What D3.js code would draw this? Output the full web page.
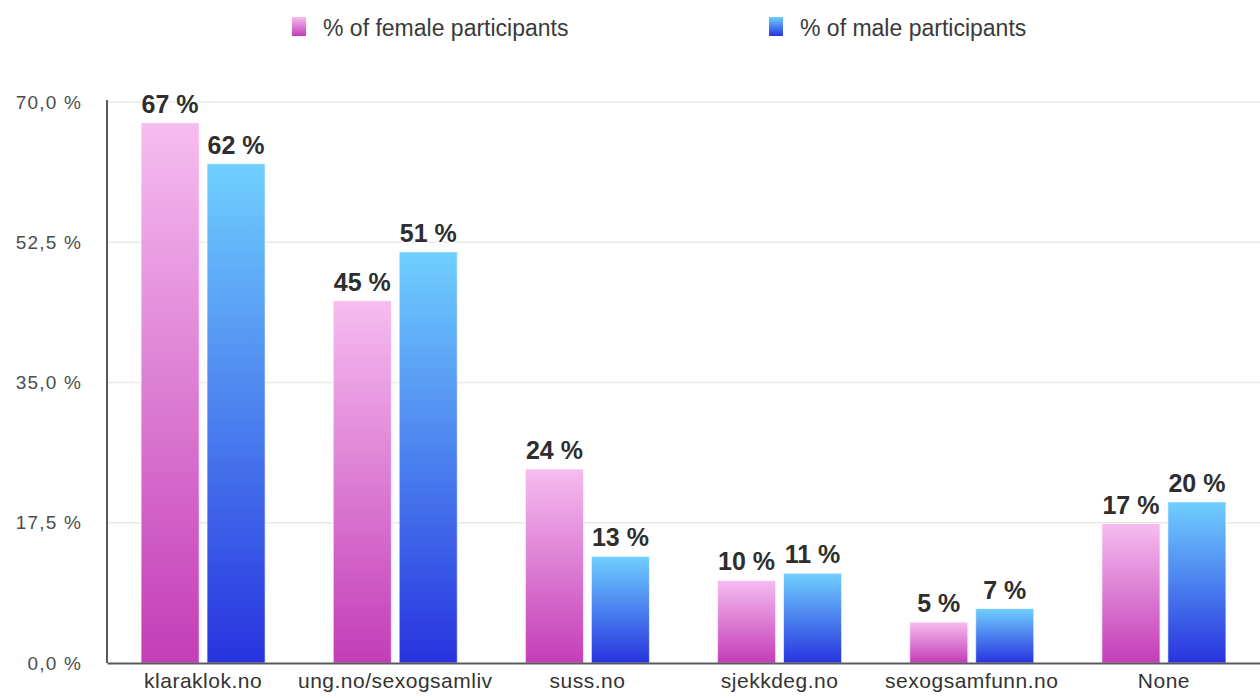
<!DOCTYPE html>
<html>
<head>
<meta charset="utf-8">
<script src="https://cdn.jsdelivr.net/npm/d3@7"></script>
<style>
  body { margin: 0; background: #fff; }
  svg { display: block; font-family: "Liberation Sans", Arial, Helvetica, sans-serif; }
</style>
</head>
<body>
<div id="chart"></div>
<script>
// Data for the chart
const categories = ["klaraklok.no", "ung.no/sexogsamliv", "suss.no", "sjekkdeg.no", "sexogsamfunn.no", "None"];
const female = [67.4, 45.2, 24.2, 10.3, 5.1, 17.4];
const male = [62.3, 51.3, 13.3, 11.2, 6.8, 20.1];
const seriesNames = ["% of female participants", "% of male participants"];
const yTicks = [0, 17.5, 35, 52.5, 70];

// Plot area
const W = 1260, H = 698;
const plot = { left: 107, right: 1260, top: 102, bottom: 663 };

const svg = d3.select("#chart")
    .append("svg")
    .attr("width", W)
    .attr("height", H);

// Gradients
const defs = svg.append("defs");
const grads = [
    { id: "gFemale", top: "#f6bcef", bottom: "#c33db7" },
    { id: "gMale", top: "#70cffe", bottom: "#2733df" }
];
grads.forEach(g => {
    const lg = defs.append("linearGradient")
        .attr("id", g.id)
        .attr("x1", 0).attr("y1", 0).attr("x2", 0).attr("y2", 1);
    lg.append("stop").attr("offset", "0%").attr("stop-color", g.top);
    lg.append("stop").attr("offset", "100%").attr("stop-color", g.bottom);
});

// Scales
const x0 = d3.scaleBand()
    .domain(categories)
    .range([plot.left, plot.right]);

const x1 = d3.scaleBand()
    .domain(["female", "male"])
    .range([x0.bandwidth() / 2 - 62, x0.bandwidth() / 2 + 62])
    .paddingInner(0.12);

const y = d3.scaleLinear()
    .domain([0, 70])
    .range([plot.bottom, plot.top]);

// Gridlines
svg.append("g")
    .selectAll("line")
    .data(yTicks.filter(d => d > 0))
    .enter()
    .append("line")
    .attr("x1", plot.left).attr("x2", plot.right)
    .attr("y1", d => y(d)).attr("y2", d => y(d))
    .attr("stroke", "#e9e9e9")
    .attr("stroke-width", 1.5);

// Y axis labels
const yAxis = svg.append("g")
    .attr("transform", `translate(${plot.left},0)`)
    .call(d3.axisLeft(y).tickValues(yTicks).tickSize(0).tickPadding(25)
        .tickFormat(d => d3.format(".1f")(d).replace(".", ",") + " %"));
yAxis.select(".domain").remove();
yAxis.selectAll("text")
    .attr("font-size", 19)
    .attr("letter-spacing", 1.2)
    .attr("fill", "#4d4d4d")
    .attr("font-family", "Liberation Sans, Arial, sans-serif");

// Bars
const rows = categories.map((c, i) => ({ cat: c, vals: [
    { key: "female", v: female[i] },
    { key: "male", v: male[i] }
] }));

const groups = svg.selectAll(".grp")
    .data(rows)
    .enter()
    .append("g")
    .attr("class", "grp")
    .attr("transform", d => `translate(${x0(d.cat)},0)`);

groups.selectAll("rect")
    .data(d => d.vals)
    .enter()
    .append("rect")
    .attr("x", d => x1(d.key))
    .attr("width", x1.bandwidth())
    .attr("y", d => y(d.v))
    .attr("height", d => y(0) - y(d.v))
    .attr("fill", d => d.key === "female" ? "url(#gFemale)" : "url(#gMale)")
    .attr("stroke", "rgba(255,255,255,0.6)")
    .attr("stroke-width", 1);

// Value labels
groups.selectAll(".label")
    .data(d => d.vals)
    .enter()
    .append("text")
    .attr("class", "label")
    .attr("x", d => x1(d.key) + x1.bandwidth() / 2)
    .attr("y", d => y(d.v) - 10)
    .attr("text-anchor", "middle")
    .attr("font-size", 25)
    .attr("font-weight", "bold")
    .attr("fill", "#2e2e2e")
    .attr("stroke", "#fff")
    .attr("stroke-width", 3)
    .attr("paint-order", "stroke")
    .text(d => Math.round(d.v) + " %");

// Axes lines
svg.append("line")
    .attr("x1", plot.left).attr("x2", plot.left)
    .attr("y1", y(70) - 2).attr("y2", plot.bottom)
    .attr("stroke", "#5a5a5a").attr("stroke-width", 2);

const xAxis = svg.append("g")
    .attr("transform", `translate(0,${plot.bottom})`)
    .call(d3.axisBottom(x0).tickSize(0).tickPadding(10));
xAxis.select(".domain")
    .attr("stroke", "#5a5a5a").attr("stroke-width", 2);
xAxis.selectAll("text")
    .attr("font-size", 21)
    .attr("letter-spacing", 0.5)
    .attr("fill", "#333")
    .attr("font-family", "Liberation Sans, Arial, sans-serif");

// Legend
const legendX = [292, 769];
const legend = svg.selectAll(".legend")
    .data(seriesNames)
    .enter()
    .append("g")
    .attr("class", "legend")
    .attr("transform", (d, i) => `translate(${legendX[i]},17)`);

legend.append("rect")
    .attr("width", 14)
    .attr("height", 19)
    .attr("fill", (d, i) => i === 0 ? "url(#gFemale)" : "url(#gMale)");

legend.append("text")
    .attr("x", 31)
    .attr("y", 19)
    .attr("font-size", 23)
    .attr("fill", "#3a3a3a")
    .text(d => d);
</script>
</body>
</html>
